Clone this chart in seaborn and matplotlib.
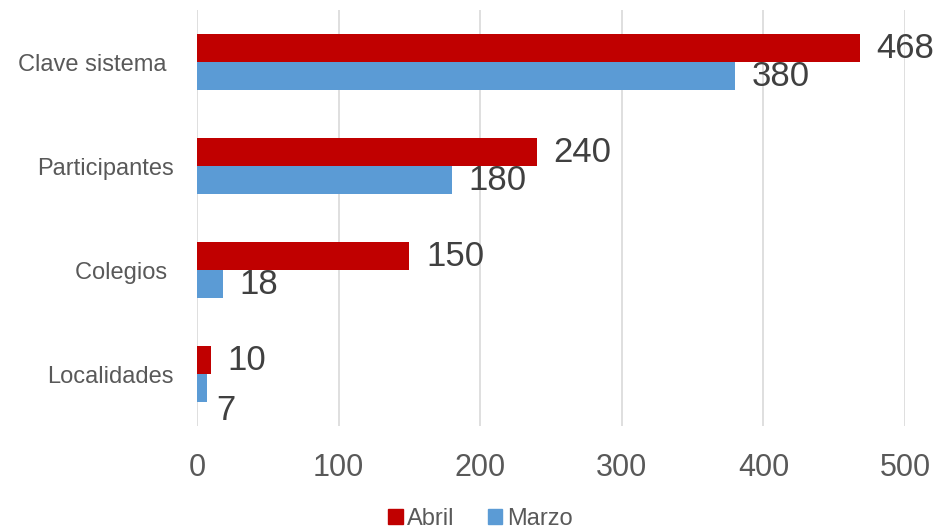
import pandas as pd
import matplotlib.pyplot as plt
import seaborn as sns

# datos
categorias = ['Clave sistema ', 'Participantes', 'Colegios ', 'Localidades']
abril = [468, 240, 150, 10]
marzo = [380, 180, 18, 7]
meses = ['Abril', 'Marzo']
colores = ['#C00000', '#5B9BD5']
ticks_x = [0, 100, 200, 300, 400, 500]

df = pd.DataFrame({'categoria': categorias * 2,
                   'valor': abril + marzo,
                   'mes': ['Abril'] * 4 + ['Marzo'] * 4})

sns.set_theme(style='white')
plt.rcParams['font.family'] = ['Liberation Sans', 'DejaVu Sans']

fig = plt.figure(figsize=(9.4, 5.3), dpi=100)
ax = fig.add_axes([0.2096, 0.196, 0.7532, 0.785])

sns.barplot(data=df, x='valor', y='categoria', hue='mes', hue_order=meses,
            palette=colores, orient='h', width=0.54, linewidth=0,
            saturation=1, ax=ax, legend=False)

ax.set_xlim(0, 500)
ax.set_xticks(ticks_x)
ax.set_ylim(3.5, -0.5)
for t in ticks_x:
    ax.axvline(t, color='#d9d9d9', lw=1.2, zorder=0)
sns.despine(ax=ax, left=True, bottom=True)
ax.set_xlabel('')
ax.set_ylabel('')
ax.tick_params(axis='x', length=0, pad=19, labelsize=22, labelcolor='#595959')
ax.tick_params(axis='y', length=0, pad=17, labelsize=17, labelcolor='#595959')

# etiquetas de datos (el 7 se desplaza como en el original)
desplaz = {(1, 3): (7, -16)}
for i, cont in enumerate(ax.containers):
    for j, barra in enumerate(cont):
        w = barra.get_width()
        yc = barra.get_y() + barra.get_height() / 2
        dx, dy = desplaz.get((i, j), (12, 0))
        ax.annotate(f'{w:.0f}', (w, yc), xytext=(dx, dy), textcoords='offset points',
                    ha='left', va='center', fontsize=25, color='#404040')

handles = [plt.Rectangle((0, 0), 1, 1, color=c) for c in colores]
fig.legend(handles, meses, loc='lower center', bbox_to_anchor=(0.511, -0.04),
           ncol=2, frameon=False, fontsize=17, handlelength=0.6, handleheight=0.6,
           handletextpad=0.2, columnspacing=1.4, labelcolor='#595959')

fig.savefig('out.png', dpi=100)
